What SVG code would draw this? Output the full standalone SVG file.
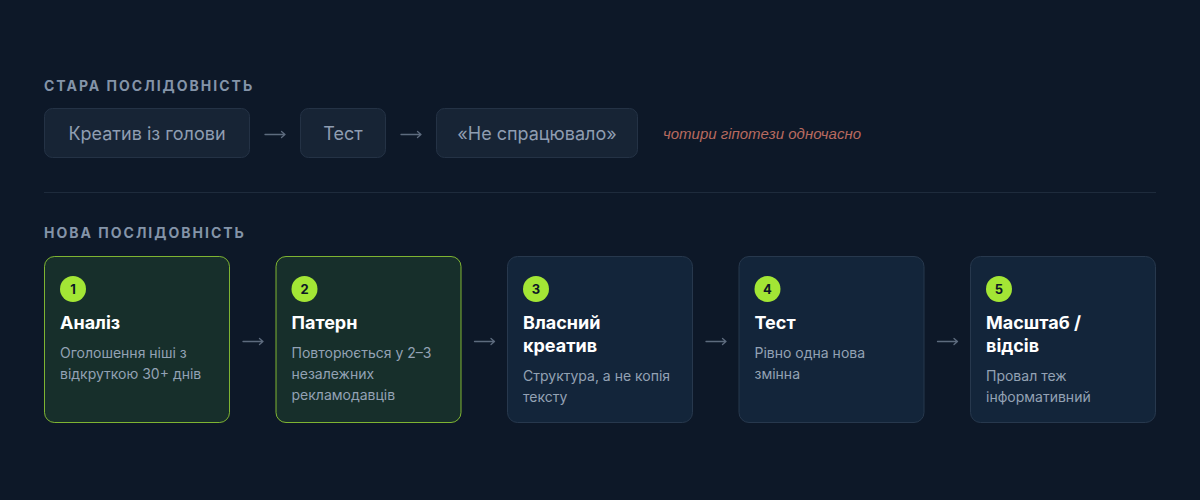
<svg xmlns="http://www.w3.org/2000/svg" width="1200" height="500" viewBox="0 0 1200 500">
<style>
  text { font-family: Inter, "Liberation Sans", Arial, sans-serif; }
  .hdr { font-size: 14px; font-weight: bold; fill: #8494a8; letter-spacing: 2px; }
  .obox { fill: #172435; stroke: #243245; stroke-width: 1; }
  .otxt { font-size: 18px; fill: #8f9db1; text-anchor: middle; }
  .note { font-family: "Liberation Sans", Arial, sans-serif; font-size: 15px; font-style: italic; fill: #b86a5f; }
  .arr { fill: none; stroke: #5d6b7e; stroke-width: 1.3; stroke-linecap: round; stroke-linejoin: round; }
  .cg { fill: #172f2b; stroke: #a3e635; stroke-opacity: 0.75; stroke-width: 1; }
  .cb { fill: #13253a; stroke: #27384d; stroke-width: 1; }
  .badge { fill: #a3e635; }
  .num { font-size: 13px; font-weight: bold; fill: #0d1826; text-anchor: middle; }
  .ttl { font-size: 18px; font-weight: bold; fill: #ffffff; }
  .dsc { font-size: 14px; fill: #93a2b4; }
</style>
<rect x="0" y="0" width="1200" height="500" fill="#0d1828"/>

<text class="hdr" x="44" y="91">СТАРА ПОСЛІДОВНІСТЬ</text>

<g id="old1"><rect class="obox" x="44.500" y="108.500" width="205" height="49" rx="8"/><text class="otxt" x="147" y="140">Креатив із голови</text></g>
<g id="old2"><rect class="obox" x="300.500" y="108.500" width="85" height="49" rx="8"/><text class="otxt" x="343" y="140">Тест</text></g>
<g id="old3"><rect class="obox" x="436.500" y="108.500" width="201" height="49" rx="8"/><text class="otxt" x="537" y="140">«Не спрацювало»</text></g>
<text class="note" x="663" y="139">чотири гіпотези одночасно</text>

<line x1="44" y1="192.500" x2="1156" y2="192.500" stroke="#1e2b3c" stroke-width="1"/>

<text class="hdr" x="44" y="238">НОВА ПОСЛІДОВНІСТЬ</text>

<g id="connectors">
  <path class="arr" d="M265 134.500 H285 M281.500 131.500 L285 134.500 L281.500 137.500"/>
  <path class="arr" d="M401 134.500 H421 M417.500 131.500 L421 134.500 L417.500 137.500"/>
  <path class="arr" d="M243 341.500 H263 M259.500 338.500 L263 341.500 L259.500 344.500"/>
  <path class="arr" d="M474.500 341.500 H494.500 M491 338.500 L494.500 341.500 L491 344.500"/>
  <path class="arr" d="M706 341.500 H726 M722.500 338.500 L726 341.500 L722.500 344.500"/>
  <path class="arr" d="M937.500 341.500 H957.500 M954 338.500 L957.500 341.500 L954 344.500"/>
</g>

<g id="step1">
  <rect class="cg" x="44.500" y="256.500" width="185" height="166" rx="10"/>
  <circle class="badge" cx="73" cy="289" r="13"/>
  <text class="num" x="73" y="293.500">1</text>
  <text class="ttl" x="60" y="329">Аналіз</text>
  <text class="dsc" x="60" y="358">Оголошення ніші з</text>
  <text class="dsc" x="60" y="379">відкруткою 30+ днів</text>
</g>
<g id="step2">
  <rect class="cg" x="276" y="256.500" width="185" height="166" rx="10"/>
  <circle class="badge" cx="304.500" cy="289" r="13"/>
  <text class="num" x="304.500" y="293.500">2</text>
  <text class="ttl" x="291.500" y="329">Патерн</text>
  <text class="dsc" x="291.500" y="358">Повторюється у 2–3</text>
  <text class="dsc" x="291.500" y="379">незалежних</text>
  <text class="dsc" x="291.500" y="400">рекламодавців</text>
</g>
<g id="step3">
  <rect class="cb" x="507.500" y="256.500" width="185" height="166" rx="10"/>
  <circle class="badge" cx="536" cy="289" r="13"/>
  <text class="num" x="536" y="293.500">3</text>
  <text class="ttl" x="523" y="329">Власний</text>
  <text class="ttl" x="523" y="352">креатив</text>
  <text class="dsc" x="523" y="381">Структура, а не копія</text>
  <text class="dsc" x="523" y="402">тексту</text>
</g>
<g id="step4">
  <rect class="cb" x="739" y="256.500" width="185" height="166" rx="10"/>
  <circle class="badge" cx="767.500" cy="289" r="13"/>
  <text class="num" x="767.500" y="293.500">4</text>
  <text class="ttl" x="754.500" y="329">Тест</text>
  <text class="dsc" x="754.500" y="358">Рівно одна нова</text>
  <text class="dsc" x="754.500" y="379">змінна</text>
</g>
<g id="step5">
  <rect class="cb" x="970.500" y="256.500" width="185" height="166" rx="10"/>
  <circle class="badge" cx="999" cy="289" r="13"/>
  <text class="num" x="999" y="293.500">5</text>
  <text class="ttl" x="986" y="329">Масштаб /</text>
  <text class="ttl" x="986" y="352">відсів</text>
  <text class="dsc" x="986" y="381">Провал теж</text>
  <text class="dsc" x="986" y="402">інформативний</text>
</g>
</svg>
